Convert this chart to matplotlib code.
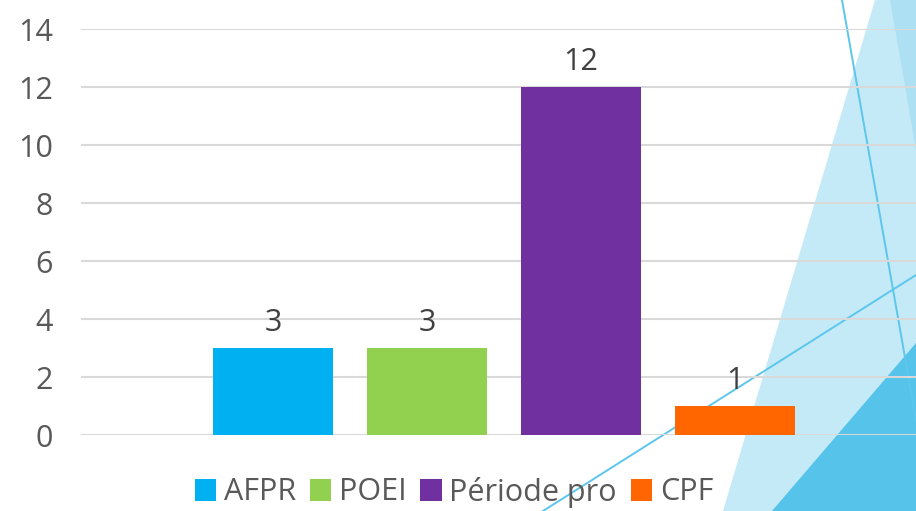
import matplotlib
matplotlib.use("Agg")
import matplotlib.pyplot as plt
from matplotlib.patches import Polygon, Patch
from matplotlib.lines import Line2D

categories = ["AFPR", "POEI", "Période pro", "CPF"]
values = [3, 3, 12, 1]
colors = ["#00B0F0", "#92D050", "#7030A0", "#FF6600"]
yticks = [0, 2, 4, 6, 8, 10, 12, 14]

W, H = 916, 511
fig = plt.figure(figsize=(W / 100, H / 100), dpi=100)
fig.patch.set_facecolor("white")

def fx(px):
    return px / W

def fy(py):
    return 1 - py / H

# decorative background shapes (figure coords)
deco = [
    ([(875, 0), (723, 511), (916, 511), (916, 0)], "#C5EAF7"),
    ([(890, 0), (916, 150), (916, 0)], "#ADE0F3"),
    ([(772, 511), (916, 343), (916, 511)], "#55C3EA"),
]
for pts, c in deco:
    poly = Polygon([(fx(x), fy(y)) for x, y in pts], closed=True, transform=fig.transFigure,
                   facecolor=c, edgecolor="none", zorder=-5)
    fig.patches.append(poly)
for (x0, y0), (x1, y1) in [((842, 0), (916, 420)), ((543, 511), (916, 275))]:
    ln = Line2D([fx(x0), fx(x1)], [fy(y0), fy(y1)], transform=fig.transFigure,
                color="#5CC6EC", lw=1.4, zorder=-4)
    fig.lines.append(ln)

# axes: left 81px, right 916px, top y=29 (14), bottom y=435 (0)
ax_left, ax_right = 81, 916
ax_top, ax_bot = 29, 435
ax = fig.add_axes([fx(ax_left), fy(ax_bot), fx(ax_right - ax_left), (ax_bot - ax_top) / H])
ax.set_facecolor("none")
ax.set_zorder(1)

FS = 22
FONT = "Open Sans"
xpos = list(range(len(categories)))
xmin = -(273 - 81) / 154
xmax = xmin + (ax_right - ax_left) / 154
bars = ax.bar(xpos, values, width=120 / 154, color=colors, zorder=3)
for x, v in zip(xpos, values):
    ax.text(x, v + 0.35, str(v), ha="center", va="bottom", fontsize=FS, color="#404040",
            family=FONT, zorder=4)

ax.set_xlim(xmin, xmax)
ax.set_ylim(0, 14)
ax.set_yticks(yticks)
ax.set_yticklabels([str(t) for t in yticks], fontsize=FS, color="#595959", family=FONT)
ax.tick_params(axis="y", length=0, pad=20)
ax.set_xticks([])
ax.yaxis.grid(True, color="#D9D9D9", lw=1.5, zorder=0)
for s in ax.spines.values():
    s.set_visible(False)

handles = [Patch(facecolor=c, edgecolor="none") for c in colors]
leg = fig.legend(handles, categories, loc="center", bbox_to_anchor=(fx(454), fy(492)), ncol=4,
                 frameon=False, handlelength=0.7, handleheight=0.7,
                 handletextpad=0.25, columnspacing=0.45, prop={"family": FONT, "size": FS})
for t in leg.get_texts():
    t.set_color("#595959")

fig.savefig("out.png", dpi=100)
